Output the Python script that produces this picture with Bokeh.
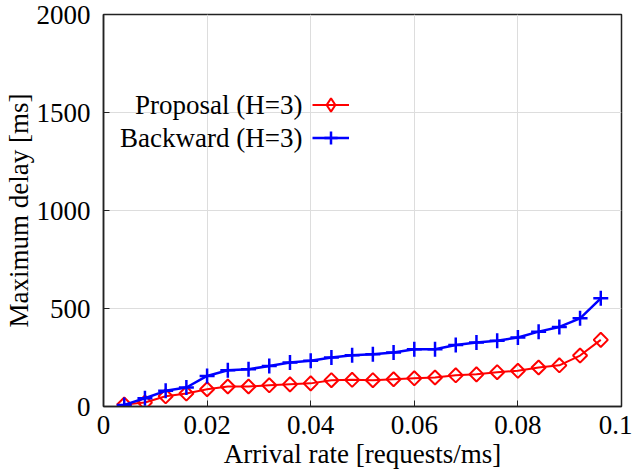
import math
from bokeh.plotting import figure
from bokeh.models import (ColumnDataSource, Label, Legend, LegendItem,
                          Range1d, FixedTicker)
from bokeh.core.properties import value
from bokeh.embed import file_html
from bokeh.resources import INLINE

# ---- data ----
arrival_rate = [0.004, 0.008, 0.012, 0.016, 0.020, 0.024, 0.028, 0.032, 0.036, 0.040,
                0.044, 0.048, 0.052, 0.056, 0.060, 0.064, 0.068, 0.072, 0.076, 0.080,
                0.084, 0.088, 0.092, 0.096]
proposal = [10, 20, 52, 66, 88, 102, 102, 108, 113, 118, 134, 136, 134, 139, 144, 148,
            159, 164, 175, 182, 199, 210, 260, 340]
backward = [8, 42, 80, 97, 156, 185, 190, 207, 224, 233, 250, 261, 267, 275, 292, 292,
            314, 326, 335, 352, 382, 406, 450, 552]
x_ticks = [0, 0.02, 0.04, 0.06, 0.08, 0.1]
x_tick_labels = {0: "0", 0.02: "0.02", 0.04: "0.04", 0.06: "0.06", 0.08: "0.08", 0.1: "0.1"}
y_ticks = [0, 500, 1000, 1500, 2000]
series_names = ["Proposal (H=3)", "Backward (H=3)"]
x_title = "Arrival rate [requests/ms]"
y_title = "Maximum delay [ms]"

FONT = "Liberation Serif"
FS = "27px"

src = ColumnDataSource(dict(x=arrival_rate, p=proposal, b=backward))
legend_only = ColumnDataSource(dict(x=[float("nan")], y=[float("nan")]))

p = figure(width=632, height=475, output_backend="svg", toolbar_location=None,
           x_range=Range1d(0, 0.1), y_range=Range1d(0, 2000),
           min_border_left=101, min_border_right=11, min_border_top=14,
           min_border_bottom=69, background_fill_color="white",
           border_fill_color="white", outline_line_color="#222222",
           outline_line_width=1.5)

# axes styling
for ax in (p.xaxis[0], p.yaxis[0]):
    ax.major_tick_in = 6
    ax.major_tick_out = 0
    ax.minor_tick_line_color = None
    ax.axis_line_color = "#222222"
    ax.axis_line_width = 1.5
    ax.major_tick_line_color = "#222222"
    ax.major_tick_line_width = 1
    ax.major_label_text_font = FONT
    ax.major_label_text_font_size = FS
    ax.major_label_text_color = "black"
    ax.axis_label_text_font = FONT
    ax.axis_label_text_font_size = FS
    ax.axis_label_text_font_style = "normal"
    ax.axis_label_text_color = "black"

p.xaxis[0].ticker = FixedTicker(ticks=x_ticks)
p.xaxis[0].major_label_overrides = x_tick_labels
p.xaxis[0].major_label_standoff = 9
p.xaxis[0].axis_label = x_title
p.xaxis[0].axis_label_standoff = 2
p.yaxis[0].ticker = FixedTicker(ticks=y_ticks)
p.yaxis[0].major_label_standoff = 13
p.yaxis[0].axis_label = y_title
p.yaxis[0].axis_label_standoff = 0

p.xgrid.grid_line_color = "#dddddd"
p.ygrid.grid_line_color = "#dddddd"
p.xgrid.ticker = FixedTicker(ticks=x_ticks)
p.ygrid.ticker = FixedTicker(ticks=y_ticks)

# series
pl = p.line("x", "p", source=src, line_color="#ff0000", line_width=2)
pm = p.scatter("x", "p", source=src, marker="square", angle=math.pi / 4, size=10,
               fill_color=None, line_color="#ff0000", line_width=2)
bl = p.line("x", "b", source=src, line_color="#0000ff", line_width=2.5)
bm = p.scatter("x", "b", source=src, marker="cross", size=15,
               line_color="#0000ff", line_width=2.5)
# legend-only diamond sample (invisible NaN point)
pm_leg = p.scatter("x", "y", source=legend_only, marker="diamond", size=17,
                   fill_color=None, line_color="#ff0000", line_width=2)

# legend: samples only (text drawn to the left, gnuplot style)
legend = Legend(items=[LegendItem(label=value(" "), renderers=[pl, pm_leg]),
                       LegendItem(label=value(" "), renderers=[bl, bm])],
                location=(209, 252), orientation="vertical",
                glyph_width=37, glyph_height=33, label_height=33, spacing=0,
                padding=0, margin=0, border_line_alpha=0, background_fill_alpha=0,
                label_text_font_size="4px", label_standoff=0, label_width=0)
p.add_layout(legend, "center")

for i, name in enumerate(series_names):
    p.add_layout(Label(x=199, y=302 - 33 * i, x_units="screen", y_units="screen",
                       text=name, text_align="right", text_baseline="middle",
                       text_font=FONT, text_font_size=FS, text_color="black"))

open("out.html", "w").write(file_html(p, INLINE))
